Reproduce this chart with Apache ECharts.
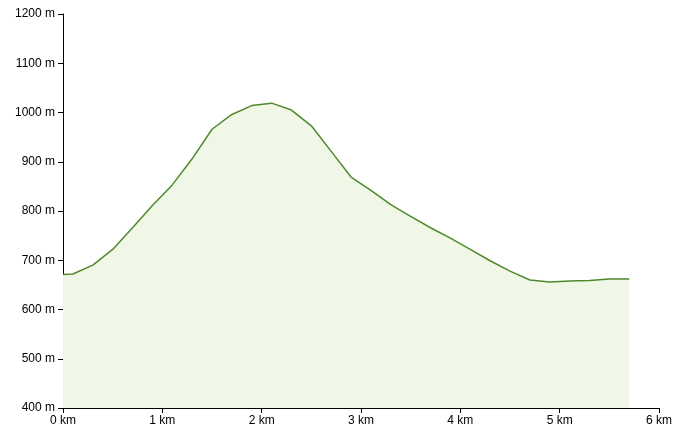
<!DOCTYPE html>
<html>
<head>
<meta charset="utf-8">
<script src="https://cdn.jsdelivr.net/npm/echarts@6/dist/echarts.min.js"></script>
<style>
html,body{margin:0;padding:0;background:#fff;}
#chart{width:682px;height:439px;}
</style>
</head>
<body>
<div id="chart"></div>
<script>
const distanceKm = [0, 0.1, 0.3, 0.5, 0.7, 0.9, 1.1, 1.3, 1.5, 1.7, 1.9, 2.1, 2.3, 2.5, 2.7, 2.9, 3.1, 3.3, 3.5, 3.7, 3.9, 4.1, 4.3, 4.5, 4.7, 4.9, 5.1, 5.3, 5.5, 5.7];
const elevationM = [671, 672, 690, 722, 766, 811, 853, 906, 966, 996, 1014, 1019, 1005, 973, 921, 869, 842, 813, 789, 766, 745, 722, 699, 678, 660, 656, 658, 659, 662, 662];
const xTicks = [0, 1, 2, 3, 4, 5, 6];
const yTicks = [400, 500, 600, 700, 800, 900, 1000, 1100, 1200];

const chart = echarts.init(document.getElementById('chart'));
const font = {color: '#000', fontSize: 12, fontFamily: 'Liberation Sans, Arial, sans-serif'};
chart.setOption({
  animation: false,
  grid: {left: 63, right: 23, top: 14, bottom: 31, containLabel: false},
  xAxis: {
    type: 'value', min: xTicks[0], max: xTicks[xTicks.length - 1], interval: 1,
    axisLine: {lineStyle: {color: '#000', width: 1}},
    axisTick: {show: true, length: 5, lineStyle: {color: '#000'}},
    axisLabel: Object.assign({formatter: v => v + ' km', margin: 7}, font),
    splitLine: {show: false}
  },
  yAxis: {
    type: 'value', min: yTicks[0], max: yTicks[yTicks.length - 1], interval: 100,
    axisLine: {show: true, lineStyle: {color: '#000', width: 1}},
    axisTick: {show: true, length: 5, lineStyle: {color: '#000'}},
    axisLabel: Object.assign({formatter: v => v + ' m', margin: 8}, font),
    splitLine: {show: false}
  },
  series: [{
    type: 'line',
    data: distanceKm.map((d, i) => [d, elevationM[i]]),
    showSymbol: false,
    lineStyle: {color: '#4e8a2c', width: 1.5},
    areaStyle: {color: '#f0f7e6', origin: 'start', opacity: 1},
    z: 2
  }]
});
</script>
</body>
</html>
